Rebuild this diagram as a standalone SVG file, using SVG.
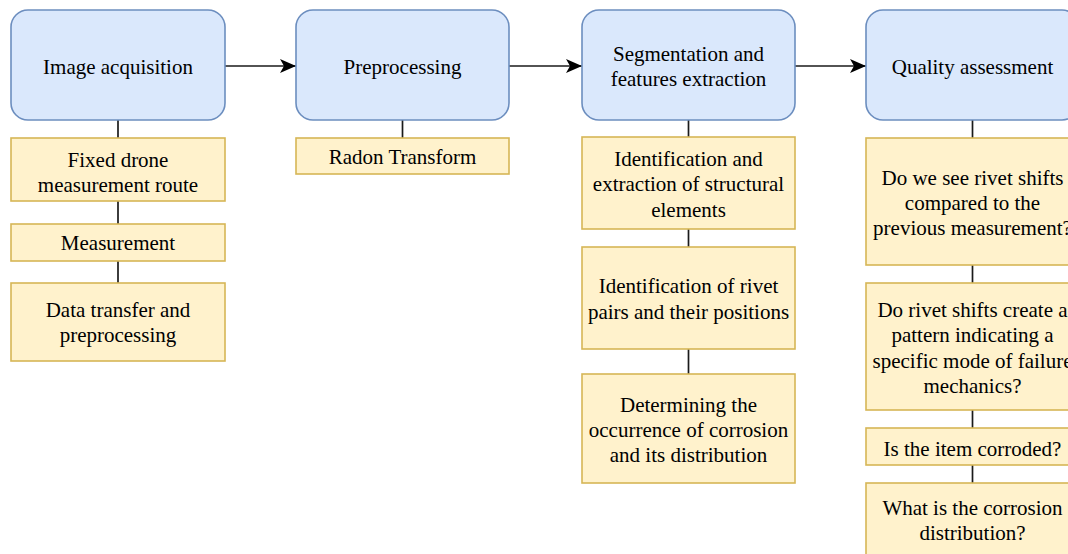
<svg xmlns="http://www.w3.org/2000/svg" width="1068" height="554" viewBox="0 0 1068 554">
<defs>
<style>
.b{fill:#dae8fc;stroke:#6c8ebf;stroke-width:1.6}
.y{fill:#fff2cc;stroke:#d6b656;stroke-width:1.6}
text{font-family:"Liberation Serif","Times New Roman",serif;font-size:21px;fill:#000;text-anchor:middle}
.c{stroke:#1a1a1a;stroke-width:1.7;fill:none}
</style>
<marker id="ah" viewBox="0 0 16 14" refX="16" refY="7" markerWidth="16" markerHeight="14" markerUnits="userSpaceOnUse" orient="auto">
<path d="M0,0 L16,7 L0,14 L4,7 Z" fill="#000"/>
</marker>
</defs>
<rect width="1068" height="554" fill="#fff"/>
<g id="connectors">
<line class="c" x1="225" y1="66" x2="296" y2="66" marker-end="url(#ah)"/>
<line class="c" x1="509" y1="66" x2="582" y2="66" marker-end="url(#ah)"/>
<line class="c" x1="795" y1="66" x2="866" y2="66" marker-end="url(#ah)"/>
<line class="c" x1="118" y1="120" x2="118" y2="138"/>
<line class="c" x1="118" y1="201" x2="118" y2="224"/>
<line class="c" x1="118" y1="261" x2="118" y2="283"/>
<line class="c" x1="402.5" y1="120" x2="402.5" y2="138"/>
<line class="c" x1="688.5" y1="120" x2="688.5" y2="137"/>
<line class="c" x1="688.5" y1="229" x2="688.5" y2="247"/>
<line class="c" x1="688.5" y1="349" x2="688.5" y2="374"/>
<line class="c" x1="972.5" y1="120" x2="972.5" y2="138"/>
<line class="c" x1="972.5" y1="265" x2="972.5" y2="283"/>
<line class="c" x1="972.5" y1="410" x2="972.5" y2="428"/>
<line class="c" x1="972.5" y1="465" x2="972.5" y2="483"/>
</g>
<g id="n1"><rect class="b" x="11" y="10" width="214" height="110" rx="17"/><text x="118" y="74">Image acquisition</text></g>
<g id="n2"><rect class="b" x="296" y="10" width="213" height="110" rx="17"/><text x="402.5" y="74">Preprocessing</text></g>
<g id="n3"><rect class="b" x="582" y="10" width="213" height="110" rx="17"/><text x="688.5" y="61">Segmentation and</text><text x="688.5" y="86">features extraction</text></g>
<g id="n4"><rect class="b" x="866" y="10" width="213" height="110" rx="17"/><text x="972.5" y="74">Quality assessment</text></g>

<g id="a1"><rect class="y" x="11" y="138" width="214" height="63"/><text x="118" y="167">Fixed drone</text><text x="118" y="192">measurement route</text></g>
<g id="a2"><rect class="y" x="11" y="224" width="214" height="37"/><text x="118" y="250">Measurement</text></g>
<g id="a3"><rect class="y" x="11" y="283" width="214" height="78"/><text x="118" y="317">Data transfer and</text><text x="118" y="342">preprocessing</text></g>

<g id="p1"><rect class="y" x="296" y="138" width="213" height="36"/><text x="402.5" y="164">Radon Transform</text></g>

<g id="s1"><rect class="y" x="582" y="137" width="213" height="92"/><text x="688.5" y="166">Identification and</text><text x="688.5" y="191">extraction of structural</text><text x="688.5" y="217">elements</text></g>
<g id="s2"><rect class="y" x="582" y="247" width="213" height="102"/><text x="688.5" y="293">Identification of rivet</text><text x="688.5" y="319">pairs and their positions</text></g>
<g id="s3"><rect class="y" x="582" y="374" width="213" height="109"/><text x="688.5" y="412">Determining the</text><text x="688.5" y="437">occurrence of corrosion</text><text x="688.5" y="462">and its distribution</text></g>

<g id="q1"><rect class="y" x="866" y="138" width="213" height="127"/><text x="972.5" y="185">Do we see rivet shifts</text><text x="972.5" y="210">compared to the</text><text x="972.5" y="235">previous measurement?</text></g>
<g id="q2"><rect class="y" x="866" y="283" width="213" height="127"/><text x="972.5" y="317">Do rivet shifts create a</text><text x="972.5" y="342">pattern indicating a</text><text x="972.5" y="368">specific mode of failure</text><text x="972.5" y="393">mechanics?</text></g>
<g id="q3"><rect class="y" x="866" y="428" width="213" height="37"/><text x="972.5" y="456">Is the item corroded?</text></g>
<g id="q4"><rect class="y" x="866" y="483" width="213" height="76"/><text x="972.5" y="515">What is the corrosion</text><text x="972.5" y="540">distribution?</text></g>
</svg>
